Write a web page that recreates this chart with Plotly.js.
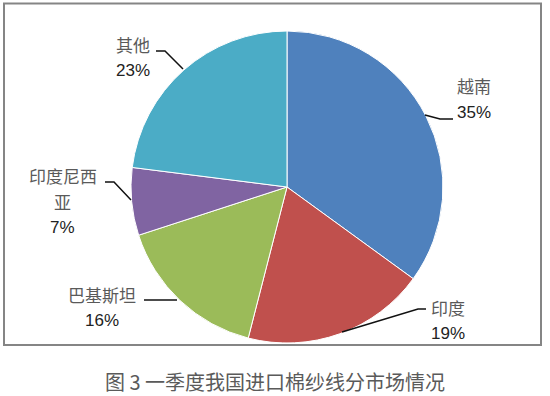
<!DOCTYPE html>
<html>
<head>
<meta charset="utf-8">
<script src="https://cdn.plot.ly/plotly-3.0.1.min.js"></script>
<style>html,body{margin:0;padding:0;background:#fff;}#chart{width:550px;height:396px;}</style>
</head>
<body>
<div id="chart"></div>
<script>
const labels = ['越南', '印度', '巴基斯坦', '印度尼西亚', '其他'];
const values = [35, 19, 16, 7, 23];
const colors = ['#4F81BD', '#C0504D', '#9BBB59', '#8064A2', '#4BACC6'];
const caption = '图 3 一季度我国进口棉纱线分市场情况';

const W = 550, H = 396;
const px = (x) => x / W;
const py = (y) => 1 - y / H;

// label anchor positions (pixels) for outside labels
const labelPos = [[474, 86], [448, 307], [102, 294], [62.5, 175], [132.6, 44]];
const leaderPaths = [
  [[425, 115], [440, 119], [453, 119]],
  [[342, 332], [418, 309], [426, 309]],
  [[144, 300], [177, 300]],
  [[105, 182], [114, 182], [131, 200]],
  [[156, 51], [165, 51], [183, 69]]
];
const lineGap = 26;

const annotations = [];
labels.forEach((name, i) => {
  const lines = [];
  for (let k = 0; k < name.length; k += 4) lines.push(name.slice(k, k + 4));
  const [x0, y0] = labelPos[i];
  lines.forEach((t, j) => {
    annotations.push({
      xref: 'paper', yref: 'paper', x: px(x0), y: py(y0 + j * lineGap),
      text: t, showarrow: false, xanchor: 'center', yanchor: 'middle',
      font: {family: 'Noto Sans CJK SC', size: 17, color: '#5a5a5a'}
    });
  });
  annotations.push({
    xref: 'paper', yref: 'paper', x: px(x0), y: py(y0 + lines.length * lineGap),
    text: values[i] + '%', showarrow: false, xanchor: 'center', yanchor: 'middle',
    font: {family: 'Liberation Sans, Arial, sans-serif', size: 17, color: '#222222'}
  });
});
annotations.push({
  xref: 'paper', yref: 'paper', x: px(275), y: py(381.5),
  text: caption, showarrow: false, xanchor: 'center', yanchor: 'middle',
  font: {family: 'Noto Sans CJK SC', size: 20, color: '#5a5a5a'}
});

const shapes = [{
  type: 'rect', xref: 'paper', yref: 'paper',
  x0: px(4), x1: px(541), y0: py(345), y1: py(3.5),
  line: {color: '#858585', width: 2}, fillcolor: 'rgba(0,0,0,0)'
}];
leaderPaths.forEach(pts => {
  const d = pts.map((p, k) => (k ? 'L' : 'M') + px(p[0]) + ',' + py(p[1])).join(' ');
  shapes.push({type: 'path', xref: 'paper', yref: 'paper', path: d, line: {color: '#111111', width: 1.5}});
});

const R = 156, CX = 287, CY = 187;
const data = [{
  type: 'pie',
  labels: labels,
  values: values,
  sort: false,
  direction: 'clockwise',
  rotation: 0,
  textinfo: 'none',
  hoverinfo: 'label+percent',
  marker: {colors: colors, line: {color: '#ffffff', width: 1}},
  domain: {x: [px(CX - R), px(CX + R)], y: [py(CY + R), py(CY - R)]}
}];

const layout = {
  width: W, height: H,
  margin: {l: 0, r: 0, t: 0, b: 0},
  paper_bgcolor: '#ffffff',
  showlegend: false,
  annotations: annotations,
  shapes: shapes
};

Plotly.newPlot('chart', data, layout, {displayModeBar: false, staticPlot: true});
</script>
</body>
</html>
